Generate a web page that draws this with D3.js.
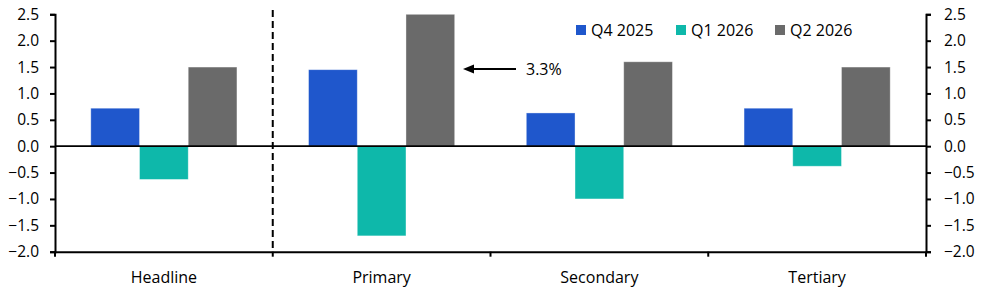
<!DOCTYPE html>
<html>
<head>
<meta charset="utf-8">
<script src="https://cdn.jsdelivr.net/npm/d3@7"></script>
<style>
  body { margin: 0; background: #fff; }
  svg text { font-family: 'Open Sans', 'Noto Sans', sans-serif; fill: #000; }
</style>
</head>
<body>
<svg class="chart" width="986" height="297"></svg>
<script>
// data
var categories = ['Headline', 'Primary', 'Secondary', 'Tertiary']
var seriesNames = ['Q4 2025', 'Q1 2026', 'Q2 2026']
var q4_2025 = [0.72, 1.45, 0.63, 0.72]
var q1_2026 = [-0.63, -1.7, -1.0, -0.38]
var q2_2026 = [1.5, 3.3, 1.6, 1.5]
var yTicks = [-2.0, -1.5, -1.0, -0.5, 0.0, 0.5, 1.0, 1.5, 2.0, 2.5]
var colors = ['#1f57cc', '#0eb8aa', '#6a6a6a']

var seriesValues = [q4_2025, q1_2026, q2_2026]

const plotLeft = 55
const plotRight = 926
const plotTop = 14.3
const plotBottom = 251.7
const svg = d3.select('.chart')

const yScale = d3
  .scaleLinear()
  .domain([-2, 2.5])
  .range([plotBottom, plotTop])
  .clamp(true)

const xScale = d3
  .scaleBand()
  .domain(categories)
  .range([plotLeft, plotRight])
  .paddingInner(0)
  .paddingOuter(0)

const xSub = d3
  .scaleBand()
  .domain(seriesNames)
  .range([0, xScale.bandwidth()])
  .paddingOuter(0.735)
  .paddingInner(0)

var rows = []
categories.forEach(function(c, i) {
  seriesNames.forEach(function(s, j) {
    rows.push({ cat: c, series: s, value: seriesValues[j][i], color: colors[j] })
  })
})

// bars
svg
  .append('g')
  .selectAll('rect')
  .data(rows)
  .enter()
  .append('rect')
  .attr('x', d => xScale(d.cat) + xSub(d.series))
  .attr('y', d => Math.min(yScale(d.value), yScale(0)))
  .attr('width', xSub.bandwidth())
  .attr('height', d => Math.abs(yScale(d.value) - yScale(0)))
  .attr('fill', d => d.color)
  .attr('stroke', 'rgba(255,255,255,0.45)')
  .attr('stroke-width', 0.8)

// zero line
svg
  .append('line')
  .attr('x1', plotLeft)
  .attr('x2', plotRight)
  .attr('y1', yScale(0))
  .attr('y2', yScale(0))
  .attr('stroke', '#000')
  .attr('stroke-width', 1.8)

// dashed divider after headline
svg
  .append('line')
  .attr('x1', xScale('Primary'))
  .attr('x2', xScale('Primary'))
  .attr('y1', 10)
  .attr('y2', plotBottom)
  .attr('stroke', '#000')
  .attr('stroke-width', 2)
  .attr('stroke-dasharray', '7,4')

// y axes
const leftAxis = svg
  .append('g')
  .attr('transform', `translate(${plotLeft}, 0)`)
  .call(d3.axisLeft(yScale).tickValues(yTicks).tickSize(5).tickPadding(11).tickFormat(d3.format('.1f')))

const rightAxis = svg
  .append('g')
  .attr('transform', `translate(${plotRight}, 0)`)
  .call(d3.axisRight(yScale).tickValues(yTicks).tickSize(5).tickPadding(13).tickFormat(d3.format('.1f')))

// x axis
const xAxis = svg
  .append('g')
  .attr('transform', `translate(0, ${plotBottom})`)
  .call(
    d3
      .axisBottom(xScale)
      .tickSize(0)
      .tickPadding(20)
  )

// category boundary ticks
var boundaries = categories.map(c => xScale(c)).concat([plotRight])
svg
  .append('g')
  .selectAll('line')
  .data(boundaries)
  .enter()
  .append('line')
  .attr('x1', d => d)
  .attr('x2', d => d)
  .attr('y1', plotBottom)
  .attr('y2', plotBottom + 5)
  .attr('stroke', '#000')
  .attr('stroke-width', 2)

;[leftAxis, rightAxis, xAxis].forEach(function(a) {
  a.select('.domain').attr('stroke', '#000').attr('stroke-width', 2)
  a.selectAll('.tick line').attr('stroke', '#000').attr('stroke-width', 2)
  a.selectAll('text').style('font-size', '15.5px').attr('fill', '#000')
})
xAxis.selectAll('text').style('font-size', '16px')

// legend
const legendX = [576, 676, 775]
const legend = svg
  .append('g')
  .selectAll('g')
  .data(seriesNames)
  .enter()
  .append('g')
  .attr('transform', (d, i) => `translate(${legendX[i]}, 25)`)

legend
  .append('rect')
  .attr('width', 10)
  .attr('height', 10)
  .attr('fill', (d, i) => colors[i])

legend
  .append('text')
  .attr('x', 15)
  .attr('y', 10.5)
  .style('font-size', '16px')
  .text(d => d)

// annotation for clipped bar
svg
  .append('path')
  .attr('d', 'M463,69 L474,64.5 L474,73.5 Z')
  .attr('fill', '#000')

svg
  .append('line')
  .attr('x1', 516)
  .attr('x2', 472)
  .attr('y1', 69)
  .attr('y2', 69)
  .attr('stroke', '#000')
  .attr('stroke-width', 1.8)

svg
  .append('text')
  .attr('x', 526)
  .attr('y', 75)
  .style('font-size', '16px')
  .text('3.3%')
</script>
</body>
</html>
